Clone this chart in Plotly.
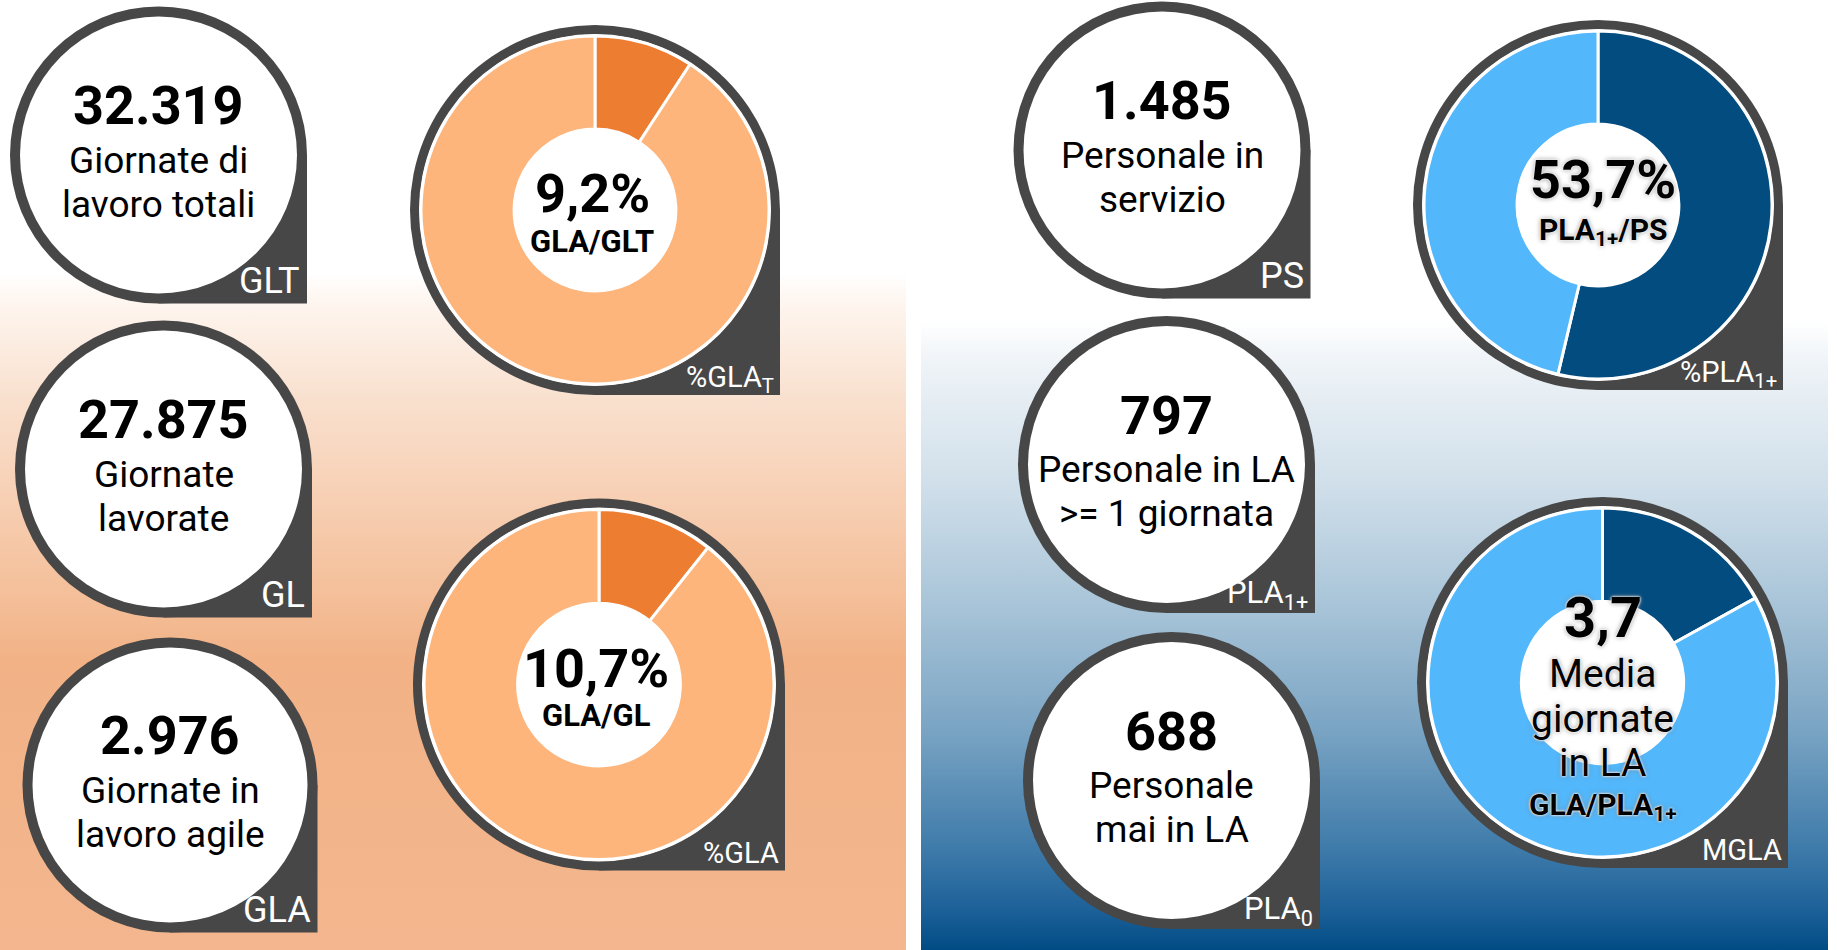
import base64

import plotly.graph_objects as go

W, H = 1837, 950

# --- data -------------------------------------------------------------
card_values = [32319, 27875, 2976, 1485, 797, 688]
card_lines = [
    ["Giornate di", "lavoro totali"],
    ["Giornate", "lavorate"],
    ["Giornate in", "lavoro agile"],
    ["Personale in", "servizio"],
    ["Personale in LA", "&gt;= 1 giornata"],
    ["Personale", "mai in LA"],
]
card_codes = ["GLT", "GL", "GLA", "PS", "PLA<sub>1+</sub>", "PLA<sub>0</sub>"]

donut_share = [9.2, 10.7, 53.7, 3.7]
donut_rest = [90.8, 89.3, 46.3, 18.1]
donut_is_pct = [True, True, True, False]
donut_ratio = ["GLA/GLT", "GLA/GL", "PLA<sub>1+</sub>/PS", "GLA/PLA<sub>1+</sub>"]
donut_codes = ["%GLA<sub>T</sub>", "%GLA", "%PLA<sub>1+</sub>", "MGLA"]
mgla_lines = ["Media", "giornate", "in LA"]

# --- layout / style -----------------------------------------------------
_DARK = "#474747"
_ORANGE = ("#ED7D31", "#FDB57B")
_BLUE = ("#034C80", "#52B7FB")
_FONT = "Roboto"
_GLOW = "0px 0px 2px #ffffff, 0px 0px 3px #ffffff, 0px 0px 5px #7a7a7a"

card_pos = [(158.5, 155, 148.5), (163.5, 469, 148.5), (170, 785, 147.5),
            (1162, 150, 148.5), (1166.5, 464.5, 148.5), (1171.5, 780.5, 148.5)]
donut_pos = [(595, 210, 185), (599, 684.5, 186), (1598, 205, 185), (1602.5, 682.5, 185.5)]
donut_colors = [_ORANGE, _ORANGE, _BLUE, _BLUE]

orange_stops = [(273, "#FFFFFF"), (300, "#FEF6F0"), (400, "#F9E0CE"), (500, "#F7CFB3"),
                (600, "#F4BE98"), (660, "#F2B286"), (950, "#F3B68E")]
blue_stops = [(321, "#FFFFFF"), (364, "#EEF3F7"), (485, "#D0DFEA"), (606, "#A8C4D8"),
              (727, "#7BA5C4"), (848, "#3F7BAA"), (909, "#1D6199"), (950, "#014B84")]


def px(x):
    return x / W


def py(y):
    return 1 - y / H


def gradient_image(x0, x1, stops):
    y0, y1 = stops[0][0], stops[-1][0]
    stop_tags = "".join(
        f'<stop offset="{(y - y0) / (y1 - y0):.4f}" stop-color="{c}"/>' for y, c in stops
    )
    svg = (
        '<svg xmlns="http://www.w3.org/2000/svg" width="100" height="100" preserveAspectRatio="none">'
        '<defs><linearGradient id="g" x1="0" y1="0" x2="0" y2="1">'
        f"{stop_tags}</linearGradient></defs>"
        '<rect x="0" y="0" width="100" height="100" fill="url(#g)"/></svg>'
    )
    uri = "data:image/svg+xml;base64," + base64.b64encode(svg.encode()).decode()
    return dict(source=uri, xref="paper", yref="paper", x=px(x0), y=py(y0),
                sizex=(x1 - x0) / W, sizey=(y1 - y0) / H, xanchor="left", yanchor="top",
                sizing="stretch", layer="below")


def circle(cx, cy, r, color):
    return dict(type="circle", xref="paper", yref="paper", x0=px(cx - r), x1=px(cx + r),
                y0=py(cy + r), y1=py(cy - r), fillcolor=color, line=dict(width=0), layer="below")


def badge(cx, cy, r, inner):
    # dark ring with a square bottom-right corner
    return [
        circle(cx, cy, r, _DARK),
        dict(type="rect", xref="paper", yref="paper", x0=px(cx), x1=px(cx + r),
             y0=py(cy + r), y1=py(cy), fillcolor=_DARK, line=dict(width=0), layer="below"),
        circle(cx, cy, inner, "white"),
    ]


annotations = []


def label(x, baseline, s, size, weight=400, color="black", xanchor="center", shadow="none"):
    off = 0.274 if "<sub>" in s else 0.342
    annotations.append(dict(
        x=px(x), y=py(baseline - off * size), xref="paper", yref="paper", text=s,
        showarrow=False, xanchor=xanchor, yanchor="middle", borderpad=0,
        font=dict(family=_FONT, size=size, color=color, weight=weight, shadow=shadow),
    ))


def it_int(v):
    return f"{v:,}".replace(",", ".")


def it_dec(v):
    return f"{v:.1f}".replace(".", ",")


shapes = []
fig = go.Figure()

for (cx, cy, r), value, lines, code in zip(card_pos, card_values, card_lines, card_codes):
    shapes += badge(cx, cy, r, r - 10)
    label(cx, cy - 31, it_int(value), 54, weight=700)
    label(cx, cy + 18, lines[0], 37)
    label(cx, cy + 62, lines[1], 37)
    # codes with a subscript are set a little smaller in the original
    code_size = 31 if "<sub>" in code else 36
    label(cx + r - 6, cy + r - 10, code, code_size, color="white", xanchor="right")

for i, ((cx, cy, r), share, rest, colors) in enumerate(
        zip(donut_pos, donut_share, donut_rest, donut_colors)):
    shapes += badge(cx, cy, r, r - 9)
    pr = r - 11
    fig.add_trace(go.Pie(
        values=[share, rest],
        marker=dict(colors=list(colors), line=dict(color="white", width=3)),
        sort=False, direction="clockwise", hole=0.465, textinfo="none",
        hoverinfo="value", showlegend=False,
        domain=dict(x=[px(cx - pr), px(cx + pr)], y=[py(cy + pr), py(cy - pr)]),
    ))
    glow = _GLOW if i >= 2 else "none"
    number = it_dec(share) + ("%" if donut_is_pct[i] else "")
    if i < 2:
        label(cx - 3, cy + 2, number, 54, weight=700)
        label(cx - 3, cy + 42, donut_ratio[i], 31, weight=700)
    elif i == 2:
        label(cx + 5, cy - 7, number, 54, weight=700, shadow=glow)
        label(cx + 5, cy + 35, donut_ratio[i], 30, weight=700, shadow=glow)
    else:
        label(cx, cy - 45, number, 56, weight=700, shadow=glow)
        for k, line in enumerate(mgla_lines):
            label(cx, cy + 5 + 44.5 * k, line, 39, shadow=glow)
        label(cx, cy + 132, donut_ratio[i], 30, weight=700, shadow=glow)
    label(cx + r - 5, cy + r - 8, donut_codes[i], 29, color="white", xanchor="right")

fig.update_layout(
    width=W,
    height=H,
    margin=dict(l=0, r=0, t=0, b=0),
    paper_bgcolor="white",
    plot_bgcolor="white",
    font=dict(family=_FONT),
    images=[gradient_image(0, 906, orange_stops), gradient_image(921, 1828, blue_stops)],
    shapes=shapes,
    annotations=annotations,
    showlegend=False,
)

# the page body has an 8px default margin; drop it so the figure sits at the origin
fig.write_html(
    "out.html",
    config={"displayModeBar": False},
    post_script="document.body.style.margin = '0';",
)
